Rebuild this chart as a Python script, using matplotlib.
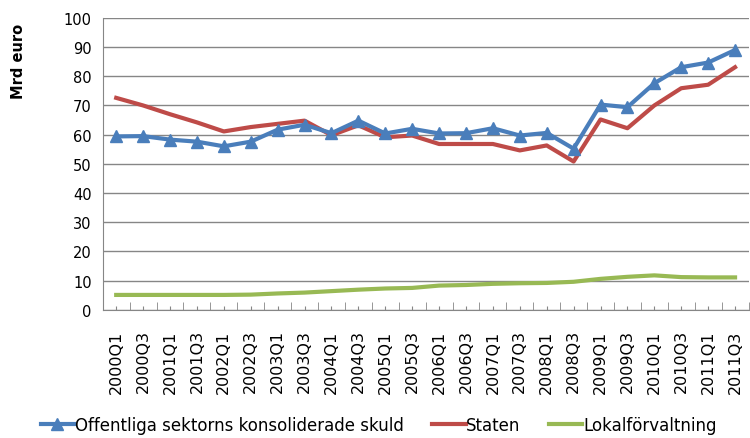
import numpy as np
import matplotlib.pyplot as plt
from matplotlib.ticker import FixedLocator

plt.rcParams['font.family'] = ['DejaVu Sans']

# Quarter labels (semiannual observations)
quarters = ['2000Q1', '2000Q3', '2001Q1', '2001Q3', '2002Q1', '2002Q3',
            '2003Q1', '2003Q3', '2004Q1', '2004Q3', '2005Q1', '2005Q3',
            '2006Q1', '2006Q3', '2007Q1', '2007Q3', '2008Q1', '2008Q3',
            '2009Q1', '2009Q3', '2010Q1', '2010Q3', '2011Q1', '2011Q3']

# Mrd euro
offentliga = [59.4, 59.5, 58.3, 57.6, 56.0, 57.6, 61.7, 63.4, 60.5, 64.8,
              60.4, 62.0, 60.4, 60.5, 62.2, 59.7, 60.6, 55.2, 70.3, 69.4,
              77.6, 83.1, 84.7, 89.0]
staten = [72.6, 70.0, 67.0, 64.2, 61.1, 62.6, 63.7, 64.8, 59.8, 63.2,
          59.1, 59.7, 56.8, 56.8, 56.8, 54.6, 56.3, 50.8, 65.2, 62.2,
          70.0, 75.9, 77.1, 83.1]
lokal = [5.1, 5.1, 5.1, 5.1, 5.1, 5.2, 5.6, 5.9, 6.4, 6.9, 7.3, 7.5,
         8.3, 8.5, 8.9, 9.1, 9.2, 9.6, 10.6, 11.3, 11.8, 11.2, 11.1, 11.1]

x = np.arange(len(quarters))

fig = plt.figure(figsize=(7.5, 4.39), dpi=100)
ax = fig.add_axes([0.137, 0.292, 0.861, 0.665])

ax.plot(x, offentliga, color='#4A7EBB', lw=3, marker='^', ms=9,
        label='Offentliga sektorns konsoliderade skuld', zorder=4)
ax.plot(x, staten, color='#BE4B48', lw=3, label='Staten', zorder=3)
ax.plot(x, lokal, color='#98B954', lw=3, label='Lokalförvaltning', zorder=3)

ax.set_xlim(-0.5, len(quarters) - 0.5)
ax.set_ylim(0, 100)
ax.set_yticks(np.arange(0, 101, 10))
ax.yaxis.grid(True, color='#868686', lw=1)
ax.set_axisbelow(True)
ax.tick_params(axis='y', length=0, labelsize=10.5, pad=8)

# category labels at centres, tick marks at boundaries and centres
ax.set_xticks(x)
ax.set_xticklabels(quarters, rotation=90, fontsize=11.5)
ax.xaxis.set_minor_locator(FixedLocator(np.arange(-0.5, len(quarters), 1)))
ax.tick_params(axis='x', which='major', direction='in', length=3,
               color='#868686', pad=14)
ax.tick_params(axis='x', which='minor', direction='in', length=6,
               color='#868686')

for side in ['top', 'right']:
    ax.spines[side].set_visible(False)
for side in ['left', 'bottom']:
    ax.spines[side].set_color('#868686')

fig.text(0.025, 0.86, 'Mrd euro', rotation=90, fontsize=10.5,
         fontweight='bold', ha='center', va='center')

fig.legend(loc='center', bbox_to_anchor=(0.505, 0.03), ncol=3, frameon=False,
           fontsize=12, handlelength=2.0, handletextpad=0.05,
           columnspacing=1.7, borderpad=0.1)

fig.savefig('out.png', dpi=100)
